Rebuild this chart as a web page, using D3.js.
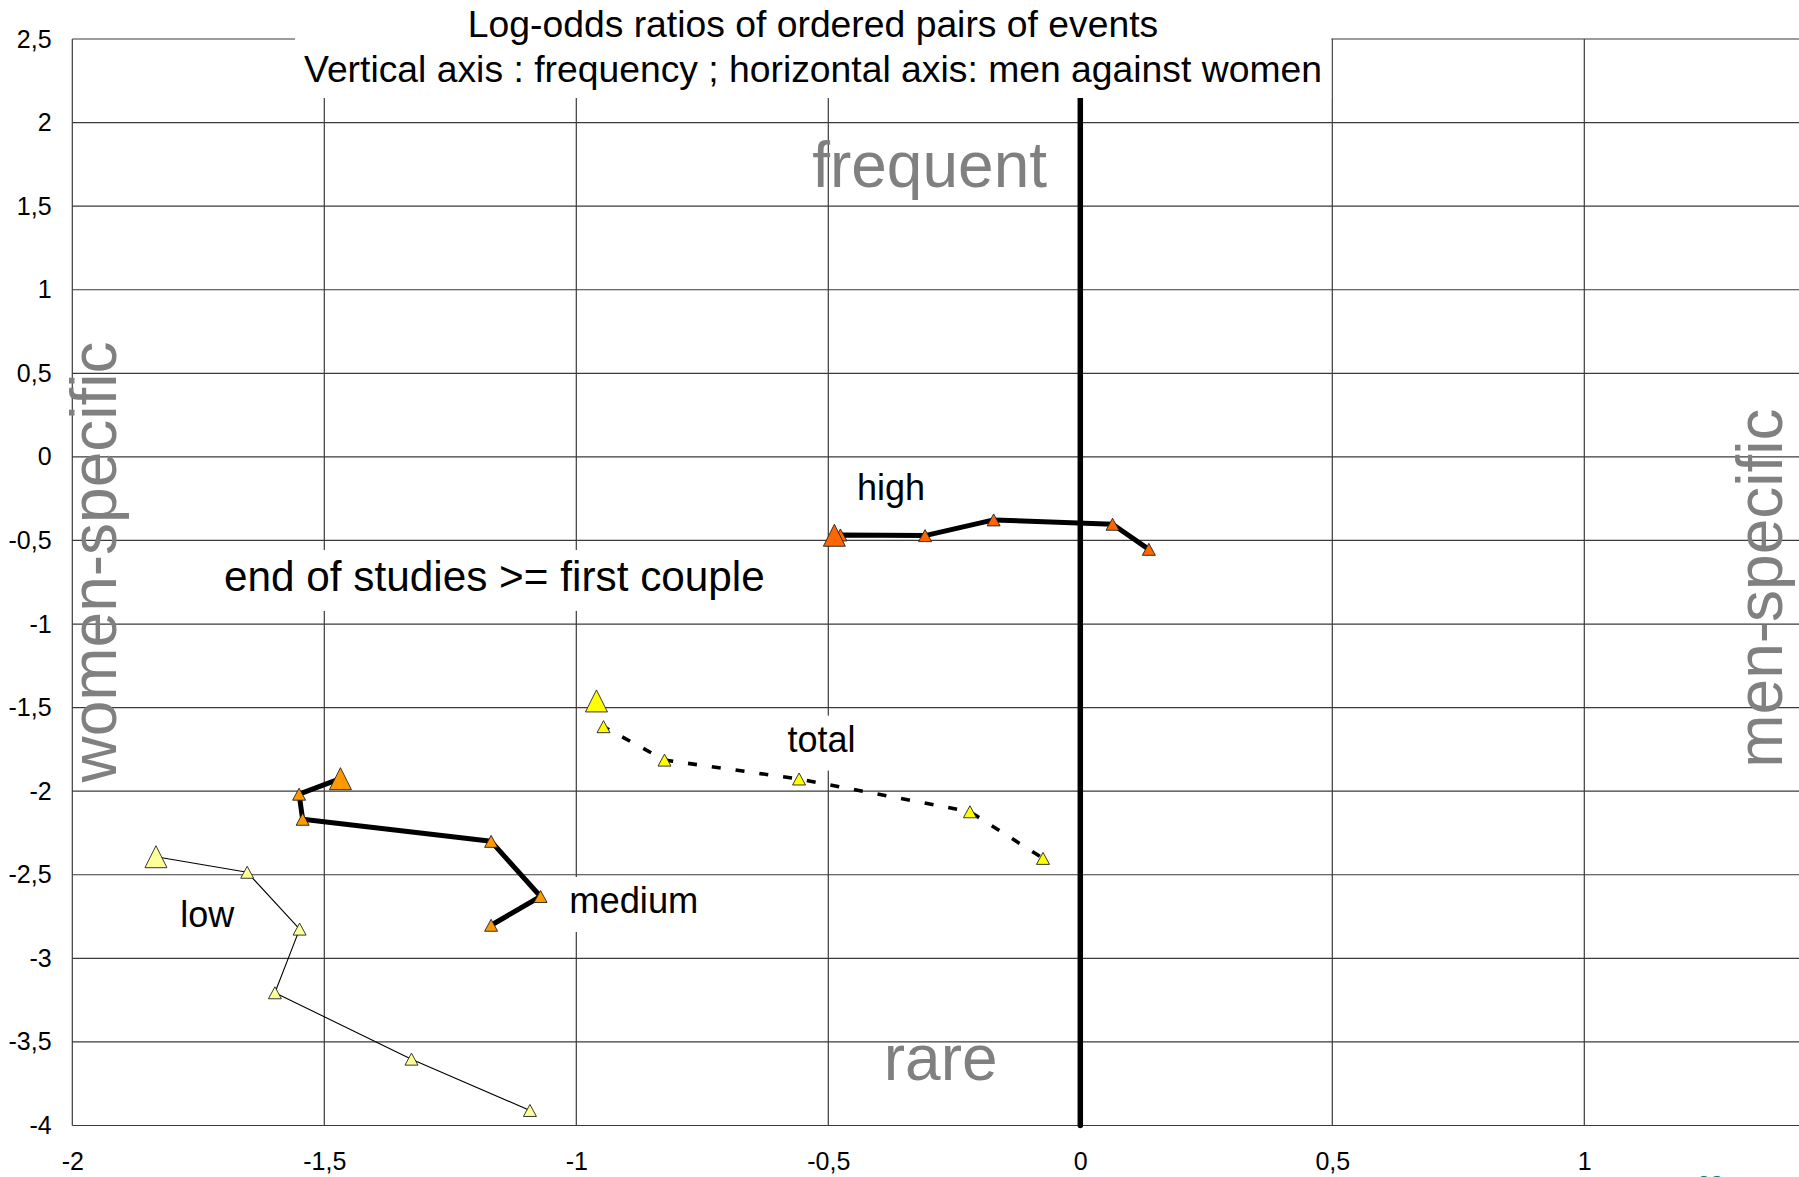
<!DOCTYPE html>
<html>
<head>
<meta charset="utf-8">
<script src="https://cdn.jsdelivr.net/npm/d3@7"></script>
<style>
html, body { margin: 0; padding: 0; background: #fff; overflow: hidden; }
svg { display: block; }
</style>
</head>
<body>
<div id="chart"></div>
<script>
'use strict';

// chart texts
var titleLines = [
    'Log-odds ratios of ordered pairs of events',
    'Vertical axis : frequency ; horizontal axis: men against women'
];
var xTicks = [-2, -1.5, -1, -0.5, 0, 0.5, 1];
var yTicks = [2.5, 2, 1.5, 1, 0.5, 0, -0.5, -1, -1.5, -2, -2.5, -3, -3.5, -4];

// series values (x = men vs women, y = frequency)
var highX = [-0.488, -0.476, -0.308, -0.172, 0.064, 0.136];
var highY = [-0.469, -0.467, -0.471, -0.377, -0.403, -0.553];

var totalX = [-0.960, -0.946, -0.825, -0.558, -0.219, -0.074];
var totalY = [-1.460, -1.614, -1.814, -1.927, -2.123, -2.402];

var mediumX = [-1.468, -1.550, -1.543, -1.169, -1.071, -1.169];
var mediumY = [-1.925, -2.018, -2.168, -2.300, -2.630, -2.802];

var lowX = [-1.834, -1.653, -1.549, -1.598, -1.327, -1.092];
var lowY = [-2.392, -2.485, -2.825, -3.206, -3.603, -3.910];

var width = 1799;
var height = 1177;
var font = '"Liberation Sans", Arial, Helvetica, sans-serif';

var x = d3.scaleLinear().domain([-2, 1]).range([72.3, 1584.3]);
var y = d3.scaleLinear().domain([-4, 2.5]).range([1125.5, 39]);
var xEnd = width + 2;

function zip(xs, ys) {
    return xs.map(function(d, i) {
        return { x: d, y: ys[i] };
    });
}

var series = [
    { name: 'low', data: zip(lowX, lowY), fill: '#ffff99', lw: 1.1, dash: null },
    { name: 'total', data: zip(totalX, totalY), fill: '#ffff00', lw: 3.6, dash: '9,15' },
    { name: 'medium', data: zip(mediumX, mediumY), fill: '#ff9900', lw: 5, dash: null },
    { name: 'high', data: zip(highX, highY), fill: '#ff6600', lw: 5, dash: null }
];

var fmt = function(v) {
    return String(v).replace('.', ',');
};

var svg = d3.select('#chart').append('svg')
    .attr('width', width)
    .attr('height', height)
    .style('background', '#fff');

// grid
var grid = svg.append('g').attr('stroke', '#3a3a3a').attr('stroke-width', 1.2);
grid.selectAll('line.h')
    .data(yTicks)
    .enter().append('line')
    .attr('class', 'h')
    .attr('x1', x(-2)).attr('x2', xEnd)
    .attr('y1', function(d) { return y(d); })
    .attr('y2', function(d) { return y(d); });
grid.selectAll('line.v')
    .data(xTicks.filter(function(d) { return d !== 0; }))
    .enter().append('line')
    .attr('class', 'v')
    .attr('x1', function(d) { return x(d); })
    .attr('x2', function(d) { return x(d); })
    .attr('y1', y(2.5)).attr('y2', y(-4));

// axes (labels only)
var yAxis = d3.axisLeft(y).tickValues(yTicks).tickSize(0).tickPadding(20.7).tickFormat(fmt);
var xAxis = d3.axisBottom(x).tickValues(xTicks).tickSize(0).tickPadding(27).tickFormat(fmt);

var gy = svg.append('g').attr('transform', 'translate(' + x(-2) + ',0)').call(yAxis);
var gx = svg.append('g').attr('transform', 'translate(0,' + y(-4) + ')').call(xAxis);
[gx, gy].forEach(function(g) {
    g.select('.domain').remove();
    g.selectAll('text')
        .attr('fill', '#000')
        .style('font-family', font)
        .style('font-size', '25px');
});

// in-plot captions, each on a white box
var captions = [
    { text: 'end of studies >= first couple', x: -1.699, y: -0.802, size: 42.3 },
    { text: 'high', x: -0.443, y: -0.255, size: 36 },
    { text: 'total', x: -0.581, y: -1.763, size: 36 },
    { text: 'medium', x: -1.014, y: -2.729, size: 36.3 },
    { text: 'low', x: -1.786, y: -2.815, size: 36 }
];
var boxLayer = svg.append('g');

// zero line
svg.append('line')
    .attr('x1', x(0)).attr('x2', x(0))
    .attr('y1', y(2.5)).attr('y2', y(-4))
    .attr('stroke', '#000')
    .attr('stroke-width', 5.5)
    .attr('stroke-linecap', 'round');

// series lines
var line = d3.line()
    .x(function(d) { return x(d.x); })
    .y(function(d) { return y(d.y); });

svg.append('g').selectAll('path')
    .data(series)
    .enter().append('path')
    .attr('d', function(d) { return line(d.data); })
    .attr('fill', 'none')
    .attr('stroke', '#000')
    .attr('stroke-width', function(d) { return d.lw; })
    .attr('stroke-dasharray', function(d) { return d.dash; })
    .attr('stroke-linejoin', 'round');

// triangle markers, first point of each series drawn larger
var tri = function(w, h) {
    return 'M0,' + (-h / 2) + 'L' + (w / 2) + ',' + (h / 2) + 'L' + (-w / 2) + ',' + (h / 2) + 'Z';
};
series.forEach(function(s) {
    svg.append('g').selectAll('path')
        .data(s.data.slice().reverse())
        .enter().append('path')
        .attr('transform', function(d) {
            return 'translate(' + x(d.x) + ',' + y(d.y) + ')';
        })
        .attr('d', function(d, i, arr) {
            return i === arr.length - 1 ? tri(22, 22) : tri(13, 12);
        })
        .attr('fill', s.fill)
        .attr('stroke', '#222')
        .attr('stroke-width', 0.9);
});

// captions
var capLayer = svg.append('g');
captions.forEach(function(c) {
    var t = capLayer.append('text')
        .attr('x', x(c.x))
        .attr('y', y(c.y))
        .style('font-family', font)
        .style('font-size', c.size + 'px')
        .attr('fill', '#000')
        .text(c.text);
    var b = t.node().getBBox();
    boxLayer.append('rect')
        .attr('x', b.x - 8)
        .attr('y', b.y - 3)
        .attr('width', b.width + 16)
        .attr('height', b.height + 14)
        .attr('fill', '#fff');
});

// big grey words
var grey = '#808080';
var bigWords = [
    { text: 'frequent', x: -0.532, y: 1.616, rot: 0 },
    { text: 'rare', x: -0.390, y: -3.729, rot: 0 },
    { text: 'women-specific', x: -1.914, y: -0.629, rot: -90 },
    { text: 'men-specific', x: 1.392, y: -0.785, rot: -90 }
];
svg.append('g').selectAll('text')
    .data(bigWords)
    .enter().append('text')
    .attr('transform', function(d) {
        return 'translate(' + x(d.x) + ',' + y(d.y) + ') rotate(' + d.rot + ')';
    })
    .attr('text-anchor', function(d) { return d.rot ? 'middle' : 'start'; })
    .style('font-family', font)
    .style('font-size', '64px')
    .attr('fill', grey)
    .text(function(d) { return d.text; });

// title with white background
svg.append('rect')
    .attr('x', 295).attr('y', 0)
    .attr('width', x(0.5) - 295 - 1).attr('height', 98)
    .attr('fill', '#fff');
svg.append('g').selectAll('text')
    .data(titleLines)
    .enter().append('text')
    .attr('x', 813)
    .attr('y', function(d, i) { return 36.5 + i * 45.5; })
    .attr('text-anchor', 'middle')
    .style('font-family', font)
    .style('font-size', '37.3px')
    .attr('fill', '#000')
    .text(function(d) { return d; });

// slide number, cut off at the bottom edge
svg.append('text')
    .attr('x', 1697)
    .attr('y', 1193)
    .style('font-family', font)
    .style('font-size', '24px')
    .attr('fill', '#008080')
    .text('23');
</script>
</body>
</html>
